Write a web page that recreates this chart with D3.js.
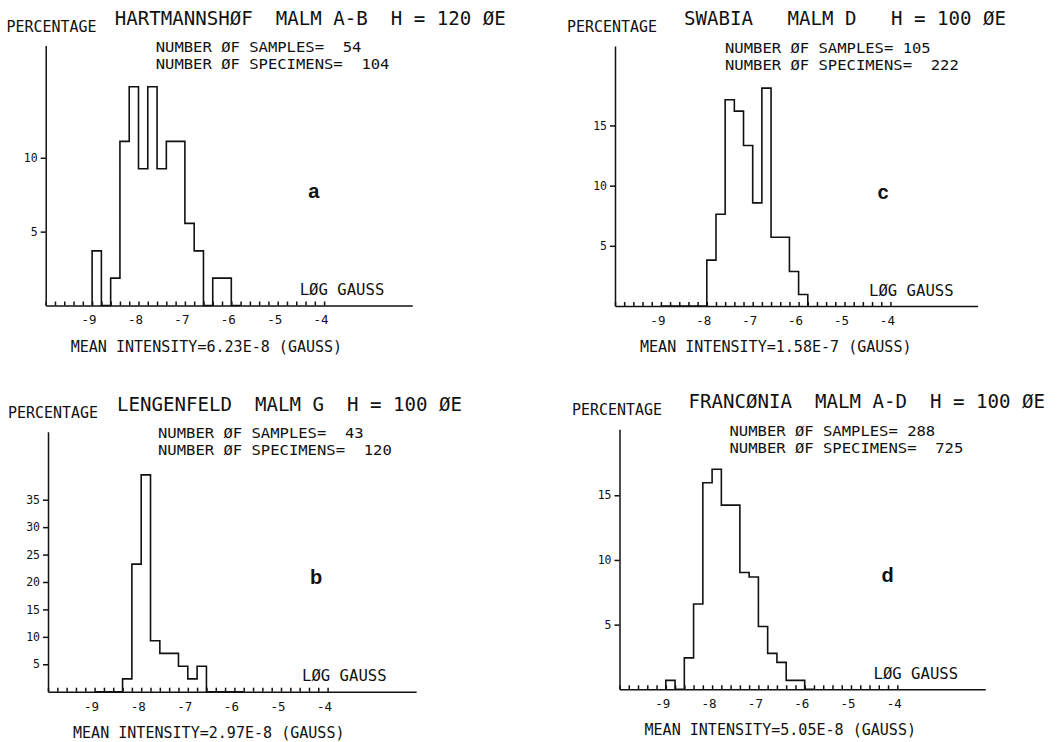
<!DOCTYPE html>
<html>
<head>
<meta charset="utf-8">
<script src="https://cdn.jsdelivr.net/npm/d3@7/dist/d3.min.js"></script>
<style>
  body { margin: 0; background: #fff; }
  svg text { font-family: "DejaVu Sans Mono", monospace; fill: #111; white-space: pre; }
  .axis path, .axis line { stroke: #111; stroke-width: 1.5; }
</style>
</head>
<body>
<div id="container"></div>
<script>
// lower edge of each 0.2 log-gauss class
var binEdges = [-9.0, -8.8, -8.6, -8.4, -8.2, -8.0, -7.8, -7.6, -7.4, -7.2, -7.0, -6.8, -6.6, -6.4, -6.2, -6.0];
var binWidth = 0.2;

// percentage of samples per class, panels a, b, c, d
var pctA = [3.70, 0, 1.85, 11.11, 14.81, 9.26, 14.81, 9.26, 11.11, 11.11, 5.56, 3.70, 0, 1.85, 1.85, 0];
var pctB = [0, 0, 0, 2.33, 23.26, 39.53, 9.30, 6.98, 6.98, 4.65, 2.33, 4.65, 0, 0, 0, 0];
var pctC = [0, 0, 0, 0, 0, 3.81, 7.62, 17.14, 16.19, 13.33, 8.57, 18.10, 5.71, 5.71, 2.86, 0.95];
var pctD = [0.69, 0, 2.43, 6.60, 15.97, 17.01, 14.24, 14.24, 9.03, 8.68, 4.86, 2.78, 2.08, 0.69, 0.69, 0];

var xTickLabels = [-9, -8, -7, -6, -5, -4];
var yTicksA = [5, 10];
var yTicksB = [5, 10, 15, 20, 25, 30, 35];
var yTicksC = [5, 10, 15];
var yTicksD = [5, 10, 15];

var titles = ["HARTMANNSHØF  MALM A-B  H = 120 ØE", "LENGENFELD  MALM G  H = 100 ØE",
              "SWABIA   MALM D   H = 100 ØE", "FRANCØNIA  MALM A-D  H = 100 ØE"];
var samples = [54, 43, 105, 288];
var specimens = [104, 120, 222, 725];
var meanIntensity = ["6.23E-8", "2.97E-8", "1.58E-7", "5.05E-8"];
var letters = ["a", "b", "c", "d"];

var series = [pctA, pctB, pctC, pctD];
var yTicks = [yTicksA, yTicksB, yTicksC, yTicksD];

// where each panel sits on the page
var layout = [
  { x0: 45.7, base: 305.5, k: 46.4, yMax: 17.6, pctX: 6.5 },
  { x0: 48,   base: 691.7, k: 46.6, yMax: 47.4, pctX: 8 },
  { x0: 615,  base: 306,   k: 45.9, yMax: 21.6, pctX: 567 },
  { x0: 619.5, base: 689.3, k: 46.3, yMax: 20.1, pctX: 572 }
];

var svg = d3.select("#container").append("svg")
            .attr("width", 1063)
            .attr("height", 742);
svg.append("rect").attr("width", 1063).attr("height", 742).attr("fill", "#fff");

var minorTicks = d3.range(0, 31).map(function(i) { return -10 + i * 0.2; });

// plotter lettering is wider than the font, so stretch to the measured pitch
function plotText(g, x, y, size, pitch, str) {
  return g.append("text").attr("x", x).attr("y", y)
    .style("font-size", size + "px")
    .attr("textLength", str.length * pitch)
    .attr("lengthAdjust", "spacingAndGlyphs")
    .text(str);
}

layout.forEach(function(p, i) {
  var g = svg.append("g");

  var x = d3.scaleLinear().domain([-10, -2.1]).range([p.x0, p.x0 + 7.9 * p.k]);
  var y = d3.scaleLinear().domain([0, p.yMax]).range([p.base, p.base - 260]);

  // baseline with small upward ticks
  g.append("g").attr("class", "axis")
   .attr("transform", "translate(0," + p.base + ")")
   .call(d3.axisTop(x).tickValues(minorTicks).tickSize(4).tickSizeOuter(0).tickFormat(""));

  // integer labels under the baseline
  var xl = g.append("g")
   .attr("transform", "translate(0," + p.base + ")")
   .call(d3.axisBottom(x).tickValues(xTickLabels).tickSize(0).tickPadding(10)
          .tickFormat(function(d) { return String(d); }));
  xl.select(".domain").remove();
  xl.selectAll("text").style("font-size", "12.5px").attr("dx", -3.5);

  // percentage axis
  var yl = g.append("g").attr("class", "axis")
   .attr("transform", "translate(" + p.x0 + ",0)")
   .call(d3.axisLeft(y).tickValues(yTicks[i]).tickSize(5).tickSizeOuter(0).tickPadding(3));
  yl.selectAll("text").style("font-size", "11.5px");

  // histogram outline
  var vals = series[i];
  var pts = [[binEdges[0], 0]]
    .concat(binEdges.map(function(e, j) { return [e, vals[j]]; }))
    .concat([[binEdges[binEdges.length - 1] + binWidth, 0]]);
  var line = d3.line()
    .x(function(d) { return x(d[0]); })
    .y(function(d) { return y(d[1]); })
    .curve(d3.curveStepAfter);
  g.append("path").datum(pts)
   .attr("d", line)
   .attr("fill", "none")
   .attr("stroke", "#111")
   .attr("stroke-width", 1.6);

  // texts
  plotText(g, p.pctX, p.base - 274, 15, 9.0, "PERCENTAGE");
  plotText(g, p.x0 + 69, p.base - 281, 19, 11.5, titles[i]);
  plotText(g, p.x0 + 110, p.base - 253.5, 14, 9.35,
           "NUMBER ØF SAMPLES=" + String(samples[i]).padStart(4, " "));
  plotText(g, p.x0 + 110, p.base - 236.5, 14, 9.35,
           "NUMBER ØF SPECIMENS=" + String(specimens[i]).padStart(5, " "));
  plotText(g, p.x0 + 254, p.base - 10.5, 15, 9.4, "LØG GAUSS");
  plotText(g, p.x0 + 25, p.base + 46, 15, 9.05, "MEAN INTENSITY=" + meanIntensity[i] + " (GAUSS)");
  g.append("text").attr("x", p.x0 + 268).attr("y", p.base - 107.5)
   .attr("text-anchor", "middle")
   .style("font-family", "'Liberation Sans', Arial, sans-serif")
   .style("font-weight", "bold")
   .style("font-size", "20px")
   .text(letters[i]);
});
</script>
</body>
</html>
